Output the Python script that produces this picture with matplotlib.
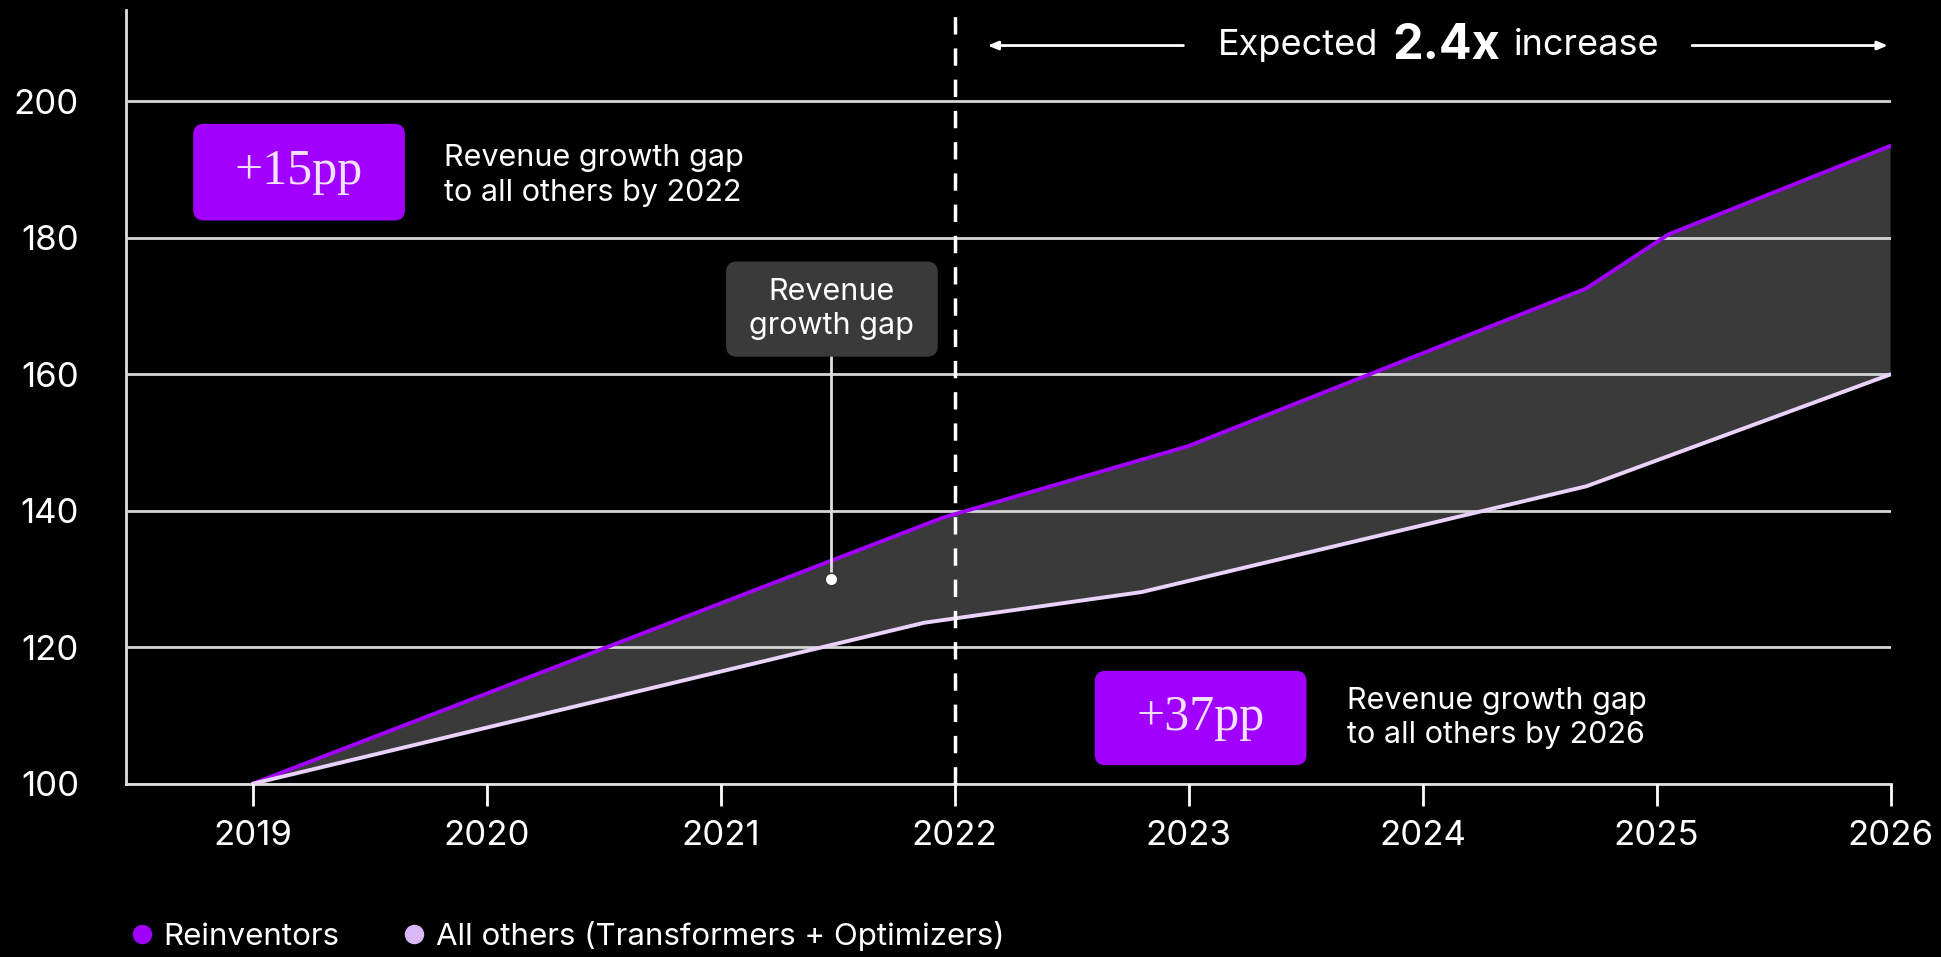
import numpy as np
import matplotlib.pyplot as plt
from matplotlib.lines import Line2D
from matplotlib.patches import FancyBboxPatch

plt.rcParams['font.family'] = ['Inter', 'DejaVu Sans']

# Reinventors (purple) and all others (lavender), revenue index 2019 = 100
reinv_x = [2019.0, 2021.95, 2023.0, 2024.7, 2025.05, 2026.0]
reinv_y = [100, 139.0, 149.5, 172.6, 180.5, 193.5]
others_x = [2019.0, 2021.87, 2022.8, 2024.7, 2026.0]
others_y = [100, 123.6, 128.1, 143.6, 160.0]

years = [2019, 2020, 2021, 2022, 2023, 2024, 2025, 2026]
y_ticks = [100, 120, 140, 160, 180, 200]
gap_point = (2021.47, 130)

PURPLE = '#A100FF'
LAVENDER = '#EBD2FA'
GREY = '#3a3a3a'

fig = plt.figure(figsize=(19.41, 9.57), dpi=100, facecolor='black')
ax = fig.add_axes([0.065, 0.181, 0.909, 0.8085], facecolor='black')

# shaded gap between the two series
poly_x = np.r_[reinv_x, others_x[::-1]]
poly_y = np.r_[reinv_y, others_y[::-1]]
ax.fill(poly_x, poly_y, color=GREY, lw=0, zorder=1)

ax.plot(reinv_x, reinv_y, color=PURPLE, lw=2.8, zorder=3, solid_capstyle='round')
ax.plot(others_x, others_y, color=LAVENDER, lw=2.8, zorder=3, solid_capstyle='round')

ax.set_xlim(2018.46, 2026)
ax.set_ylim(100, 213.4)
ax.set_xticks(years)
ax.set_yticks(y_ticks)
ax.tick_params(axis='x', colors='white', labelsize=25, length=16, width=2, pad=10)
ax.tick_params(axis='y', colors='white', labelsize=25, length=0, pad=34)
ax.set_axisbelow(False)
ax.yaxis.grid(True, color='#d6d6d6', lw=2)
for s in ['top', 'right']:
    ax.spines[s].set_visible(False)
for s in ['left', 'bottom']:
    ax.spines[s].set_color('#e0e0e0')
    ax.spines[s].set_linewidth(2)

# 2022 divider
ax.axvline(2022, color='white', lw=2.5, ls=(0, (5, 4)), zorder=3)

# expected increase arrows
arrow_y = 208.2
kw = dict(arrowstyle='-|>,head_length=0.6,head_width=0.25', color='white', lw=2)
ax.annotate('', xy=(2022.13, arrow_y), xytext=(2022.99, arrow_y), arrowprops=kw)
ax.annotate('', xy=(2026.0, arrow_y), xytext=(2025.14, arrow_y), arrowprops=kw)
ax.text(2023.81, arrow_y, 'Expected', color='white', fontsize=26, ha='right', va='center')
ax.text(2024.1, arrow_y, '2.4x', color='white', fontsize=35, fontweight='bold', ha='center', va='center')
ax.text(2024.39, arrow_y, 'increase', color='white', fontsize=26, ha='left', va='center')

ma = 1764 / 774


def tag(x0, y0, w, h, label):
    box = FancyBboxPatch((x0, y0), w, h, boxstyle='round,pad=0,rounding_size=0.006',
                         mutation_aspect=ma, transform=ax.transAxes,
                         facecolor=PURPLE, edgecolor='none', zorder=4)
    ax.add_patch(box)
    ax.text(x0 + w / 2, y0 + h / 2, label, transform=ax.transAxes, ha='center', va='center',
            color='#f5e0ff', fontsize=36, family=['Liberation Serif', 'DejaVu Serif'], zorder=5)


tag(0.038, 0.728, 0.120, 0.125, '+15pp')
ax.text(0.180, 0.786, 'Revenue growth gap\nto all others by 2022', transform=ax.transAxes,
        color='white', fontsize=22, ha='left', va='center', linespacing=1.3)
tag(0.549, 0.024, 0.120, 0.122, '+37pp')
ax.text(0.692, 0.085, 'Revenue growth gap\nto all others by 2026', transform=ax.transAxes,
        color='white', fontsize=22, ha='left', va='center', linespacing=1.3)

# grey callout
gbox = FancyBboxPatch((0.340, 0.552), 0.120, 0.123, boxstyle='round,pad=0,rounding_size=0.006',
                      mutation_aspect=ma, transform=ax.transAxes,
                      facecolor='#3a3a3a', edgecolor='none', zorder=4)
ax.add_patch(gbox)
ax.text(0.400, 0.6135, 'Revenue\ngrowth gap', transform=ax.transAxes, color='white',
        fontsize=22, ha='center', va='center', linespacing=1.25, zorder=5)
box_bottom = ax.transData.inverted().transform(ax.transAxes.transform((0.400, 0.552)))[1]
ax.plot([gap_point[0], gap_point[0]], [gap_point[1], box_bottom], color='#e0e0e0', lw=2, zorder=3)
ax.plot(*gap_point, 'o', color='white', markersize=9, markeredgecolor='#333333', zorder=5)

handles = [
    Line2D([], [], ls='none', marker='o', color=PURPLE, markersize=13, label='Reinventors'),
    Line2D([], [], ls='none', marker='o', color='#D9B8F5', markersize=13,
           label='All others (Transformers + Optimizers)'),
]
fig.legend(handles=handles, loc='center left', bbox_to_anchor=(0.052, 0.022), ncol=2,
           frameon=False, fontsize=22.5, labelcolor='white', handletextpad=0.3,
           columnspacing=2.0, handlelength=0.8)

fig.savefig('out.png', dpi=100, facecolor='black')
